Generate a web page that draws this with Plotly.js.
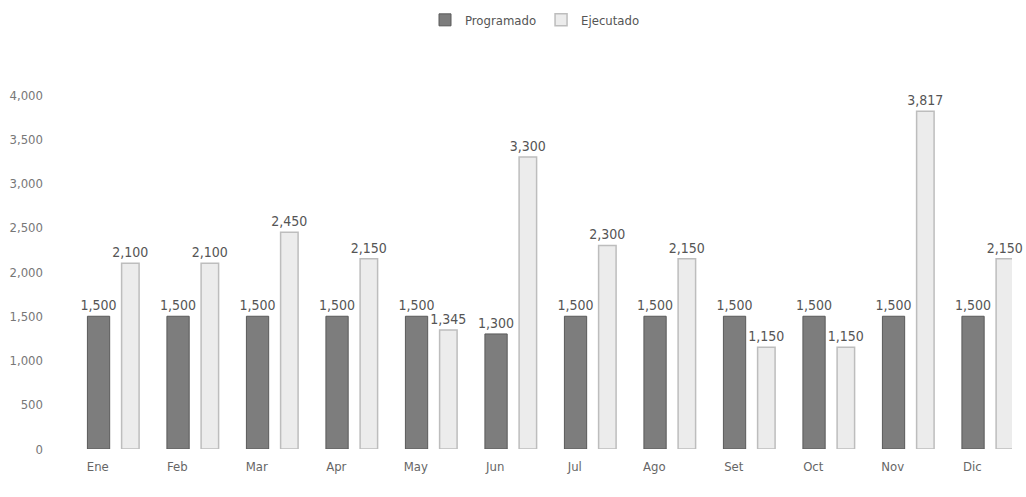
<!DOCTYPE html>
<html><head><meta charset="utf-8">
<script src="https://cdn.plot.ly/plotly-3.0.1.min.js"></script>
<style>html,body{margin:0;padding:0;background:#fff}#chart{width:1026px;height:497px}</style>
</head><body><div id="chart"></div>
<script>
const months = ["Ene","Feb","Mar","Apr","May","Jun","Jul","Ago","Set","Oct","Nov","Dic"];
const programado = [1500,1500,1500,1500,1500,1300,1500,1500,1500,1500,1500,1500];
const ejecutado = [2100,2100,2450,2150,1345,3300,2300,2150,1150,1150,3817,2150];
const yTicks = [0,500,1000,1500,2000,2500,3000,3500,4000];

const fontFam = "'Liberation Sans Narrow','DejaVu Sans Condensed','Open Sans',sans-serif";
const data = [
  {type:'bar', name:'Programado', x:months, y:programado,
   offset:-0.13, width:0.28,
   marker:{color:'#7d7d7d', line:{color:'#5a5a5a', width:1}},
   texttemplate:'%{y:,}', textposition:'outside', cliponaxis:false, constraintext:'none',
   textfont:{size:14, color:'#555', family:fontFam}},
  {type:'bar', name:'Ejecutado', x:months, y:ejecutado,
   offset:0.3, width:0.22,
   marker:{color:'#ececec', line:{color:'#bdbdbd', width:1.5}},
   texttemplate:'%{y:,}', textposition:'outside', cliponaxis:false, constraintext:'none',
   textfont:{size:14, color:'#555', family:fontFam}}
];
const layout = {
  width:1026, height:497,
  margin:{l:58, r:14, t:95, b:48, autoexpand:false},
  paper_bgcolor:'#fff', plot_bgcolor:'#fff',
  font:{family:fontFam, color:'#666', size:12},
  showlegend:true,
  legend:{orientation:'h', x:0.5, xanchor:'center', yref:'container', y:0.96, yanchor:'middle',
          font:{size:13, color:'#555'}},
  xaxis:{type:'category', range:[-0.5,11.5], showgrid:false, zeroline:false,
         showline:false, ticks:'', ticklabelstandoff:8, tickfont:{size:13, color:'#666'}},
  yaxis:{range:[0,4000], tickvals:yTicks, tickformat:',', showgrid:false,
         zeroline:false, showline:false, ticks:'', ticklabelstandoff:14,
         tickfont:{size:13, color:'#777'}},
  bargap:0.2
};
Plotly.newPlot('chart', data, layout, {displayModeBar:false, staticPlot:true});
</script></body></html>
